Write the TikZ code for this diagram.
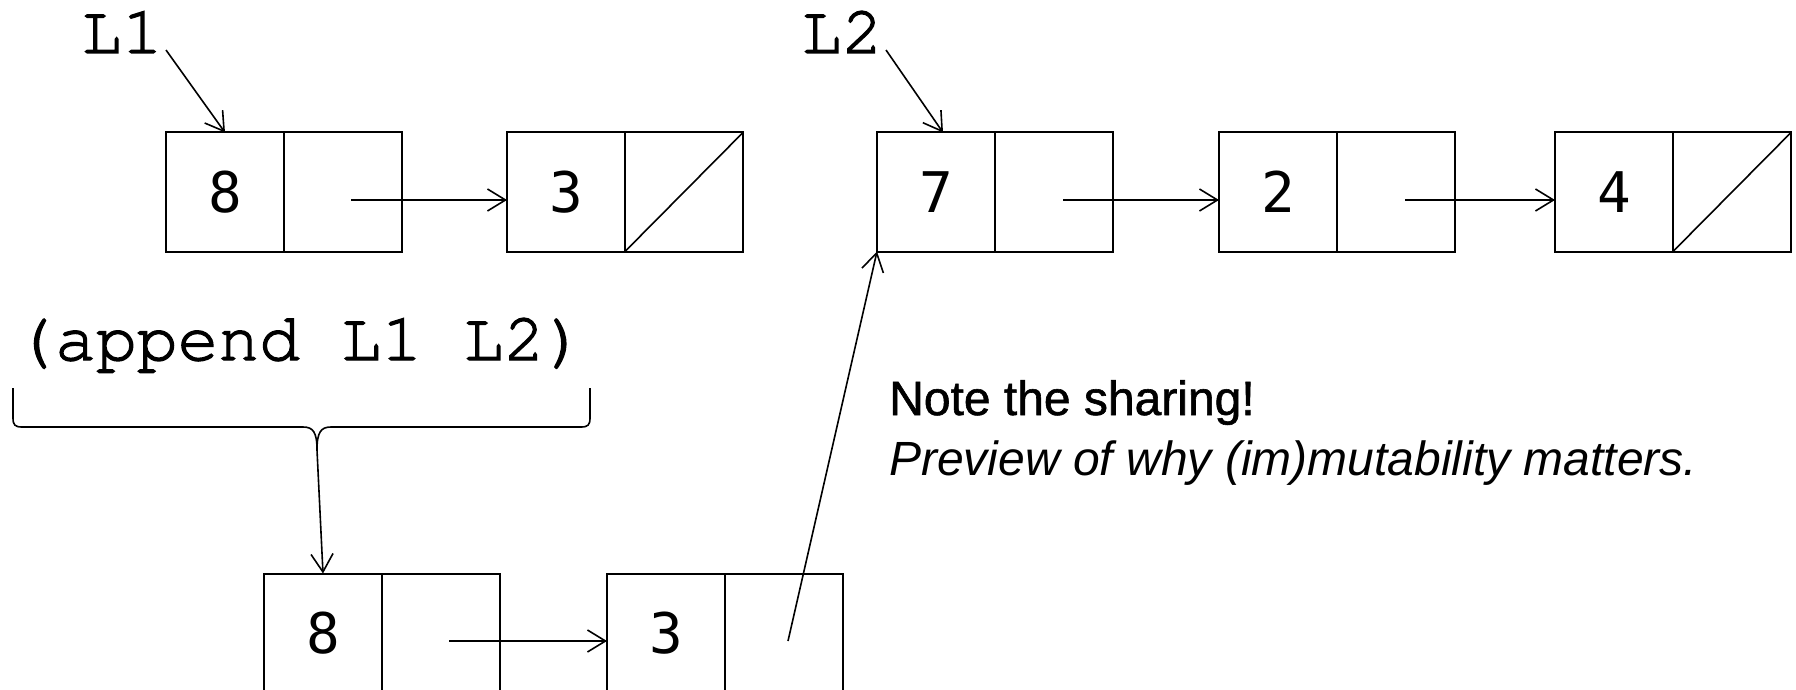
\documentclass[tikz,border=0pt]{standalone}
\usepackage{fontspec}
\setmainfont{Liberation Sans}
\setmonofont{texgyrecursor-regular.otf}[FakeBold=2]
\newfontfamily\digitfont{DejaVu Sans Mono}
\newfontfamily\notefont{Liberation Sans}[FakeBold=1.2]
\usetikzlibrary{positioning,arrows.meta}

\tikzset{
  cell/.style={draw, line width=2pt, minimum width=118pt, minimum height=119pt,
    inner sep=0pt, outer sep=0pt, font=\digitfont\fontsize{56}{56}\selectfont},
  nil/.style={cell, path picture={\draw[line width=1.6pt]
    (path picture bounding box.south west) -- (path picture bounding box.north east);}},
  ptr/.style={-{Straight Barb[length=18pt,width=22pt]}, line width=1.6pt},
  code/.style={inner sep=0pt, font=\ttfamily\fontsize{68}{68}\selectfont},
  remark/.style={anchor=base west, inner sep=0pt, font=\fontsize{48}{48}\selectfont}
}

\begin{document}
\begin{tikzpicture}[x=1pt,y=-1pt]
  \clip (0,0) rectangle (1796,690);
  \fill[white] (0,0) rectangle (1796,690);

  % L1 = (8 3)
  \node[cell] (a1) at (225,192) {8};
  \node[cell, right=0pt of a1] (a2) {};
  \node[cell] (b1) at (566,192) {3};
  \node[nil, right=0pt of b1] (b2) {};

  % L2 = (7 2 4)
  \node[cell] (c1) at (936,192) {7};
  \node[cell, right=0pt of c1] (c2) {};
  \node[cell] (d1) at (1278,192) {2};
  \node[cell, right=0pt of d1] (d2) {};
  \node[cell] (e1) at (1614,192) {4};
  \node[nil, right=0pt of e1] (e2) {};

  % the copied cells
  \node[cell] (f1) at (323,633) {8};
  \node[cell, right=0pt of f1] (f2) {};
  \node[cell] (g1) at (666,633) {3};
  \node[cell, right=0pt of g1] (g2) {};

  \node[code, anchor=base east] (l1) at (163,53) {L1};
  \node[code, anchor=base east] (l2) at (883,53) {L2};
  \node[code, anchor=base] (app) at (300,360) {(append L1 L2)};

  \node[remark, font=\notefont\fontsize{48}{48}\selectfont] (note) at (889,415) {Note the sharing!};
  \node[remark, font=\fontsize{48}{48}\selectfont\itshape] (why) at (889,475)
    {Preview of why (im)mutability matters.};

  % cdr pointers
  \coordinate (pa) at ([shift={(8,8)}]a2.center);
  \coordinate (pc) at ([shift={(9,8)}]c2.center);
  \coordinate (pd) at ([shift={(9,8)}]d2.center);
  \coordinate (pf) at ([shift={(8,8)}]f2.center);
  \coordinate (pg) at ([shift={(4,8)}]g2.center);
  \draw[ptr] (pa) -- (pa -| b1.west);
  \draw[ptr] (pc) -- (pc -| d1.west);
  \draw[ptr] (pd) -- (pd -| e1.west);
  \draw[ptr] (pf) -- (pf -| g1.west);
  \draw[ptr] (pg) -- (c1.south west);

  \draw[ptr] ([shift={(3,-3)}]l1.base east) -- (a1.north);
  \draw[ptr] ([shift={(3,-3)}]l2.base east) -- ([xshift=7pt]c1.north);

  % brace under the call
  \coordinate (tip) at (317,450);
  \draw[line width=1.6pt] (13,388) -- (13,418) .. controls (13,425) and (15,427) .. (22,427)
    -- (303,427) .. controls (313,427) and (317,432) .. (tip);
  \draw[line width=1.6pt] (590,388) -- (590,418) .. controls (590,425) and (588,427) .. (581,427)
    -- (331,427) .. controls (321,427) and (317,432) .. (tip);
  \draw[ptr] (tip) -- (f1.north);
\end{tikzpicture}
\end{document}
